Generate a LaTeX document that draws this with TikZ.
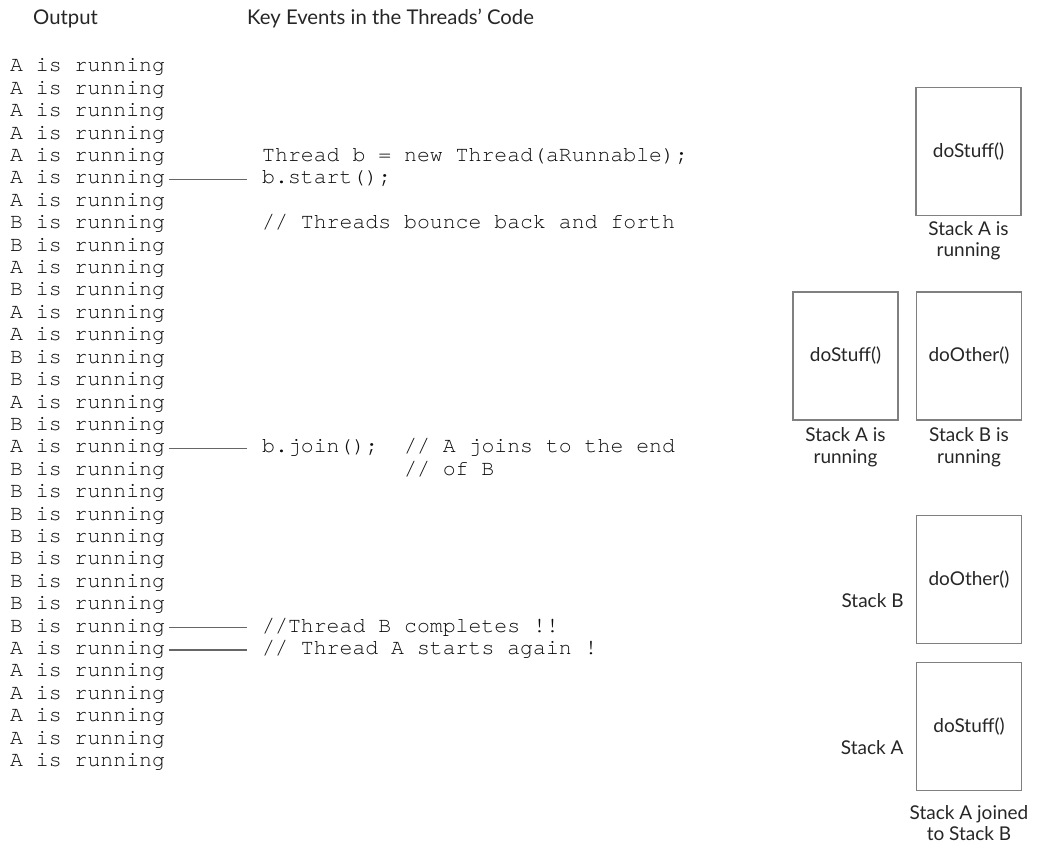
\documentclass[tikz,border=0pt]{standalone}
\usepackage{fontspec}
\setmainfont{Lato}
\newfontfamily\codefont{TeX Gyre Cursor}
\begin{document}
\begin{tikzpicture}[x=1pt,y=-1pt,
  outtxt/.style={anchor=base west, inner sep=0pt, text height=9pt, text depth=0pt,
    font=\codefont\fontsize{21.5}{22}\selectfont, text=black!95},
  head/.style={anchor=base west, inner sep=0pt, font=\fontsize{20.3}{22}\selectfont, text=black!85},
  stackbox/.style={draw=black!50, line width=1.5pt, minimum width=105pt, minimum height=128pt,
    inner sep=0pt, font=\fontsize{19}{22}\selectfont, text=black!85},
  lbl/.style={font=\fontsize{19}{21.5}\selectfont, align=center, inner sep=0pt, text=black!85},
  conn/.style={draw=black!60, line width=1.5pt, shorten <=4pt, shorten >=15pt}
]
\useasboundingbox (0,0) rectangle (1045,845);

% headings
\node[head] (hout) at (33,25) {Output};
\node[head] (hkey) at (247,25) {Key Events in the Threads' Code};

% output column
\foreach \L [count=\i] in {A,A,A,A,A,A,A,B,B,A,B,A,A,B,B,A,B,A,B,B,B,B,B,B,B,B,A,A,A,A,A,A}
  \node[outtxt] (o\i) at (10,{72+(\i-1)*22.4}) {\L{} is running};

% code column
\node[outtxt] (k5)  at (262,{72+4*22.4})  {Thread b = new Thread(aRunnable);};
\node[outtxt] (k6)  at (262,{72+5*22.4})  {b.start();};
\node[outtxt] (k8)  at (262,{72+7*22.4})  {// Threads bounce back and forth};
\node[outtxt] (k18) at (262,{72+17*22.4}) {b.join();~~// A joins to the end};
\node[outtxt] (k19) at (262,{72+18*22.4}) {\phantom{b.join();~~}// of B};
\node[outtxt] (k26) at (262,{72+25*22.4}) {//Thread B completes !!};
\node[outtxt] (k27) at (262,{72+26*22.4}) {// Thread A starts again !};

\draw[conn] (o6.east) -- (k6.west);
\draw[conn] (o18.east) -- (k18.west);
\draw[conn] (o26.east) -- (k26.west);
\draw[conn] (o27.east) -- (k27.west);

% stacks
\node[stackbox] (s1) at (968.5,151.5) {doStuff()};
\node[lbl, anchor=north] (l1) at ([yshift=-5pt]s1.south) {Stack A is\\running};

\node[stackbox] (s2) at (845.5,356) {doStuff()};
\node[lbl, anchor=north] (l2) at ([yshift=-7pt]s2.south) {Stack A is\\running};
\node[stackbox] (s3) at (969,356) {doOther()};
\node[lbl, anchor=north] (l3) at ([yshift=-7pt]s3.south) {Stack B is\\running};

\node[stackbox] (s4) at (969,579.5) {doOther()};
\node[lbl, anchor=east] (l4) at ([shift={(-12pt,-21pt)}]s4.west) {Stack B};
\node[stackbox] (s5) at (969,726.5) {doStuff()};
\node[lbl, anchor=east] (l5) at ([shift={(-12pt,-21pt)}]s5.west) {Stack A};
\node[lbl, anchor=north] (l6) at ([yshift=-14pt]s5.south) {Stack A joined\\to Stack B};
\end{tikzpicture}
\end{document}
